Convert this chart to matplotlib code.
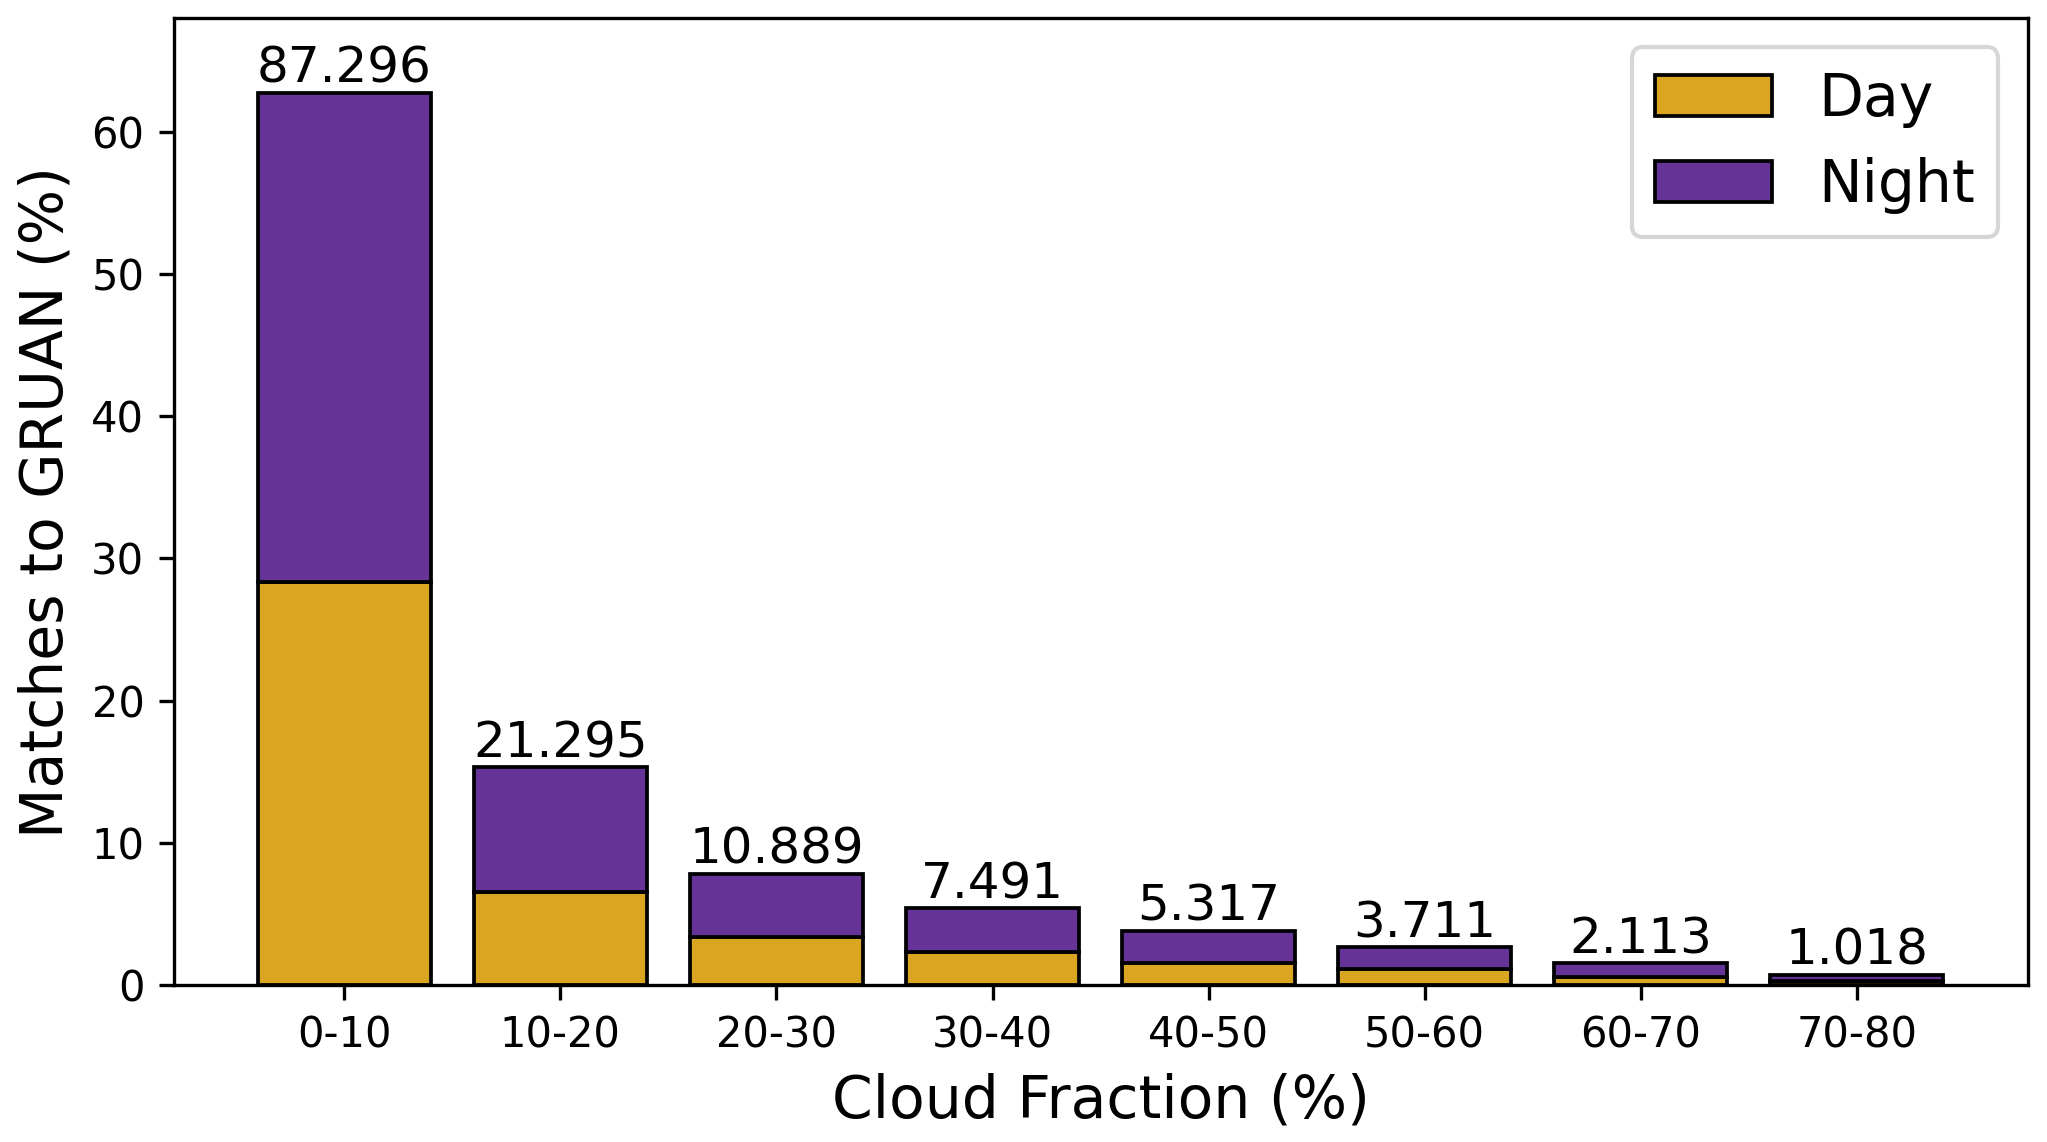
import matplotlib
matplotlib.use("Agg")
import matplotlib.pyplot as plt
import numpy as np

categories = ["0-10", "10-20", "20-30", "30-40", "40-50", "50-60", "60-70", "70-80"]
day = [28.35, 6.51, 3.37, 2.35, 1.57, 1.11, 0.59, 0.28]
night = [34.39, 8.80, 4.46, 3.03, 2.25, 1.56, 0.93, 0.45]
bar_labels = ["87.296", "21.295", "10.889", "7.491", "5.317", "3.711", "2.113", "1.018"]

fig = plt.figure(figsize=(2047 / 300, 1142 / 300), dpi=300)
ax = fig.add_axes([0.0848, 0.1375, 0.9905 - 0.0848, 0.984 - 0.1375])

x = np.arange(len(categories))
day_arr = np.array(day)
night_arr = np.array(night)
ax.bar(x, day_arr, width=0.8, color="goldenrod", edgecolor="black", linewidth=0.9, label="Day")
ax.bar(x, night_arr, width=0.8, bottom=day_arr, color="rebeccapurple", edgecolor="black",
       linewidth=0.9, label="Night")

totals = day_arr + night_arr
for xi, t, lab in zip(x, totals, bar_labels):
    ax.text(xi, t, lab, ha="center", va="bottom", fontsize=12)

ax.set_xticks(x)
ax.set_xticklabels(categories, fontsize=10)
ax.tick_params(axis="y", labelsize=10)
ax.set_yticks([0, 10, 20, 30, 40, 50, 60])
ax.set_ylim(0, 67.98)
ax.set_xlabel("Cloud Fraction (%)", fontsize=14)
ax.set_ylabel("Matches to GRUAN (%)", fontsize=14)
ax.legend(loc="upper right", fontsize=14)

fig.savefig("out.png", dpi=300)
